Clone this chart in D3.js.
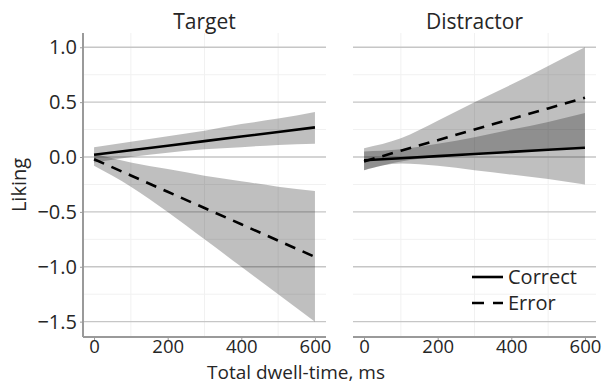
<!DOCTYPE html>
<html>
<head>
<meta charset="utf-8">
<script src="https://cdn.jsdelivr.net/npm/d3@7"></script>
<style>
  body { margin: 0; background: #fff; }
  text { font-family: "Open Sans", sans-serif; fill: #262626; }
</style>
</head>
<body>
<div id="chart"></div>
<script>
// dwell-time grid the fits/ribbons were read at (ms)
const dwell = [0, 100, 200, 300, 400, 500, 600];

// Target panel
const targetCorrectFit   = [0.02, 0.062, 0.103, 0.145, 0.187, 0.228, 0.27];
const targetCorrectLower = [-0.05, 0.00, 0.04, 0.07, 0.09, 0.11, 0.12];
const targetCorrectUpper = [0.09, 0.14, 0.19, 0.24, 0.30, 0.35, 0.41];
const targetErrorFit     = [-0.02, -0.168, -0.317, -0.465, -0.613, -0.762, -0.91];
const targetErrorLower   = [-0.08, -0.27, -0.50, -0.75, -1.00, -1.25, -1.50];
const targetErrorUpper   = [0.03, -0.05, -0.11, -0.17, -0.22, -0.27, -0.31];

// Distractor panel
const distractorCorrectFit   = [-0.03, -0.011, 0.008, 0.028, 0.047, 0.066, 0.085];
const distractorCorrectLower = [-0.12, -0.06, -0.08, -0.12, -0.16, -0.20, -0.25];
const distractorCorrectUpper = [0.05, 0.07, 0.12, 0.18, 0.25, 0.32, 0.40];
const distractorErrorFit     = [-0.04, 0.057, 0.153, 0.25, 0.347, 0.443, 0.54];
const distractorErrorLower   = [-0.12, -0.04, 0.00, 0.03, 0.05, 0.07, 0.09];
const distractorErrorUpper   = [0.08, 0.17, 0.33, 0.50, 0.66, 0.83, 1.00];

const xTicks = [0, 200, 400, 600];
const xMinor = [100, 300, 500];
const yTicks = [-1.5, -1.0, -0.5, 0.0, 0.5, 1.0];
const yMinor = [-1.25, -0.75, -0.25, 0.25, 0.75];
const panelTitles = ['Target', 'Distractor'];
const legendLabels = ['Correct', 'Error'];

const dashed = '11,8';

const panels = [
  { title: panelTitles[0], left: 83, series: [
    { fit: targetCorrectFit, lo: targetCorrectLower, hi: targetCorrectUpper, dash: null },
    { fit: targetErrorFit, lo: targetErrorLower, hi: targetErrorUpper, dash: dashed }
  ]},
  { title: panelTitles[1], left: 353, series: [
    { fit: distractorCorrectFit, lo: distractorCorrectLower, hi: distractorCorrectUpper, dash: null },
    { fit: distractorErrorFit, lo: distractorErrorLower, hi: distractorErrorUpper, dash: dashed }
  ]}
];

const W = 604, H = 385;
const panelW = 243;
const plotTop = 33, plotBottom = 337;

const svg = d3.select('#chart').append('svg')
  .attr('width', W)
  .attr('height', H);

const x = d3.scaleLinear().domain([-30, 630]).range([0, panelW]);
const y = d3.scaleLinear().domain([-1.64, 1.13]).range([plotBottom, plotTop]);
const fmt = d3.format('.1f');

panels.forEach((p, i) => {
  const g = svg.append('g').attr('transform', `translate(${p.left},0)`);

  // faint minor grid
  g.selectAll('.vminor').data(xMinor).join('line')
    .attr('x1', d => x(d)).attr('x2', d => x(d))
    .attr('y1', plotTop).attr('y2', plotBottom)
    .attr('stroke', '#f1f1f1').attr('stroke-width', 1);
  g.selectAll('.hminor').data(yMinor).join('line')
    .attr('x1', 0).attr('x2', panelW)
    .attr('y1', d => y(d)).attr('y2', d => y(d))
    .attr('stroke', '#f1f1f1').attr('stroke-width', 1);

  // major horizontal grid
  g.selectAll('.hmajor').data(yTicks).join('line')
    .attr('x1', 0).attr('x2', panelW)
    .attr('y1', d => y(d)).attr('y2', d => y(d))
    .attr('stroke', '#c6c6c6').attr('stroke-width', 1.4);

  // ribbons
  p.series.forEach(s => {
    const pts = dwell.map((t, k) => ({ t, lo: s.lo[k], hi: s.hi[k] }));
    g.append('path')
      .datum(pts)
      .attr('fill', '#000')
      .attr('fill-opacity', 0.25)
      .attr('d', d3.area().curve(d3.curveMonotoneX)
        .x(d => x(d.t)).y0(d => y(d.lo)).y1(d => y(d.hi)));
  });

  // fitted lines
  p.series.forEach(s => {
    const pts = dwell.map((t, k) => ({ t, v: s.fit[k] }));
    g.append('path')
      .datum(pts)
      .attr('fill', 'none')
      .attr('stroke', '#000')
      .attr('stroke-width', 2.6)
      .attr('stroke-dasharray', s.dash)
      .attr('d', d3.line().x(d => x(d.t)).y(d => y(d.v)));
  });

  // bottom axis
  const xa = g.append('g')
    .attr('transform', `translate(0,${plotBottom})`)
    .call(d3.axisBottom(x).tickValues(xTicks).tickSize(3).tickPadding(0));
  xa.select('.domain').attr('stroke', '#9a9a9a').attr('stroke-width', 2)
    .attr('d', `M0,0H${panelW}`);
  xa.selectAll('.tick line').attr('stroke', '#9a9a9a');
  xa.selectAll('.tick text').attr('font-size', 18.5).attr('fill', '#262626')
    .attr('font-family', '"Open Sans", sans-serif');

  // panel title
  g.append('text')
    .attr('x', panelW / 2)
    .attr('y', 29)
    .attr('text-anchor', 'middle')
    .attr('font-size', 21)
    .text(p.title);

  if (i === 0) {
    const ya = g.append('g')
      .call(d3.axisLeft(y).tickValues(yTicks).tickSize(3).tickPadding(3)
        .tickFormat(d => fmt(d).replace('-', '\u2212')));
    ya.select('.domain').attr('stroke', '#9a9a9a').attr('stroke-width', 2)
      .attr('d', `M0,${plotTop}V${plotBottom}`);
    ya.selectAll('.tick line').attr('stroke', '#9a9a9a');
    ya.selectAll('.tick text').attr('font-size', 20).attr('fill', '#262626')
      .attr('font-family', '"Open Sans", sans-serif');
  } else {
    // legend
    const lg = svg.append('g').attr('transform', 'translate(472,277)');
    legendLabels.forEach((lab, k) => {
      lg.append('line')
        .attr('x1', 0).attr('x2', 31)
        .attr('y1', k * 26).attr('y2', k * 26)
        .attr('stroke', '#000').attr('stroke-width', 2.6)
        .attr('stroke-dasharray', k === 0 ? null : '12,9');
      lg.append('text')
        .attr('x', 36).attr('y', k * 26)
        .attr('dy', '0.36em')
        .attr('font-size', 20)
        .text(lab);
    });
  }
});

// axis titles
svg.append('text')
  .attr('x', 296)
  .attr('y', 379.4)
  .attr('text-anchor', 'middle')
  .attr('font-size', 19)
  .text('Total dwell-time, ms');

svg.append('text')
  .attr('transform', 'translate(26,185) rotate(-90)')
  .attr('text-anchor', 'middle')
  .attr('font-size', 20)
  .text('Liking');
</script>
</body>
</html>
